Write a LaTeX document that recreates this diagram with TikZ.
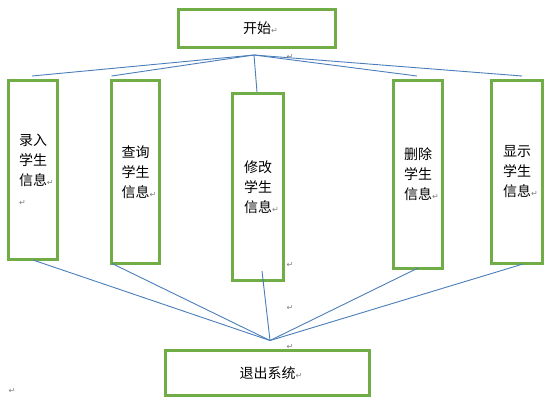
\documentclass[tikz,border=0pt]{standalone}
\usepackage{fontspec}
\newfontfamily\cjk{Noto Sans CJK SC}
\newfontfamily\symf{DejaVu Sans}
\definecolor{boxgreen}{HTML}{70AD47}
\definecolor{lineblue}{HTML}{4A7EBB}
\definecolor{markgray}{HTML}{808080}
\newcommand\pmk{{\symf\color{markgray}\fontsize{8}{8}\selectfont ↵}}
\begin{document}
\begin{tikzpicture}[x=1pt,y=-1pt,
  box/.style={draw=boxgreen, line width=3pt, inner sep=0pt, align=left,
    font=\cjk\fontsize{14}{20}\selectfont},
  conn/.style={draw=lineblue, line width=0.9pt},
  pm/.style={inner sep=0pt, font=\symf\fontsize{8}{8}\selectfont, text=markgray}]
\useasboundingbox (0,0) rectangle (553,410);
\fill[white] (0,0) rectangle (553,410);
\node[box, minimum width=157, minimum height=38] (start) at (257,28.5) {开始\rlap{\pmk}};
\node[box, minimum width=49, minimum height=179] (b1) at (33,170) {录入\\学生\\信息\rlap{\pmk}\\\pmk};
\node[box, minimum width=48, minimum height=183] (b2) at (135.5,172) {查询\\学生\\信息\rlap{\pmk}};
\node[box, minimum width=51, minimum height=187] (b3) at (258,187) {修改\\学生\\信息\rlap{\pmk}};
\node[box, minimum width=49, minimum height=188] (b4) at (418,174.5) {删除\\学生\\信息\rlap{\pmk}};
\node[box, minimum width=51, minimum height=183] (b5) at (517,172) {显示\\学生\\信息\rlap{\pmk}};
\node[box, minimum width=204, minimum height=45] (exit) at (267.5,373) {退出系统\rlap{\pmk}};
\coordinate (hubT) at (254,55);
\coordinate (hubB) at (270,340.5);
% top fan
\draw[conn] (hubT) -- ([yshift=3pt,xshift=-1pt]b1.north);
\draw[conn] (hubT) -- ([yshift=3pt,xshift=1.5pt]b2.north west);
\draw[conn] (hubT) -- ([xshift=-1pt]b3.north);
\draw[conn] (hubT) -- ([yshift=3pt,xshift=-1pt]b4.north);
\draw[conn] (hubT) -- ([yshift=3pt,xshift=5pt]b5.north);
% bottom fan
\draw[conn] ([yshift=1pt]b1.south) -- (hubB);
\draw[conn] ([yshift=1.5pt,xshift=2pt]b2.south west) -- (hubB);
\draw[conn] ([yshift=11pt,xshift=4pt]b3.south) -- (hubB);
\draw[conn] ([yshift=2pt]b4.south) -- (hubB);
\draw[conn] ([yshift=1pt,xshift=6pt]b5.south) -- (hubB);
% paragraph marks
\node[pm] (m1) at (290,57) {↵};
\node[pm] (m2) at (290,265) {↵};
\node[pm] (m3) at (290,308) {↵};
\node[pm] (m4) at (290,347) {↵};
\node[pm] (m5) at (12,391) {↵};
\end{tikzpicture}
\end{document}
